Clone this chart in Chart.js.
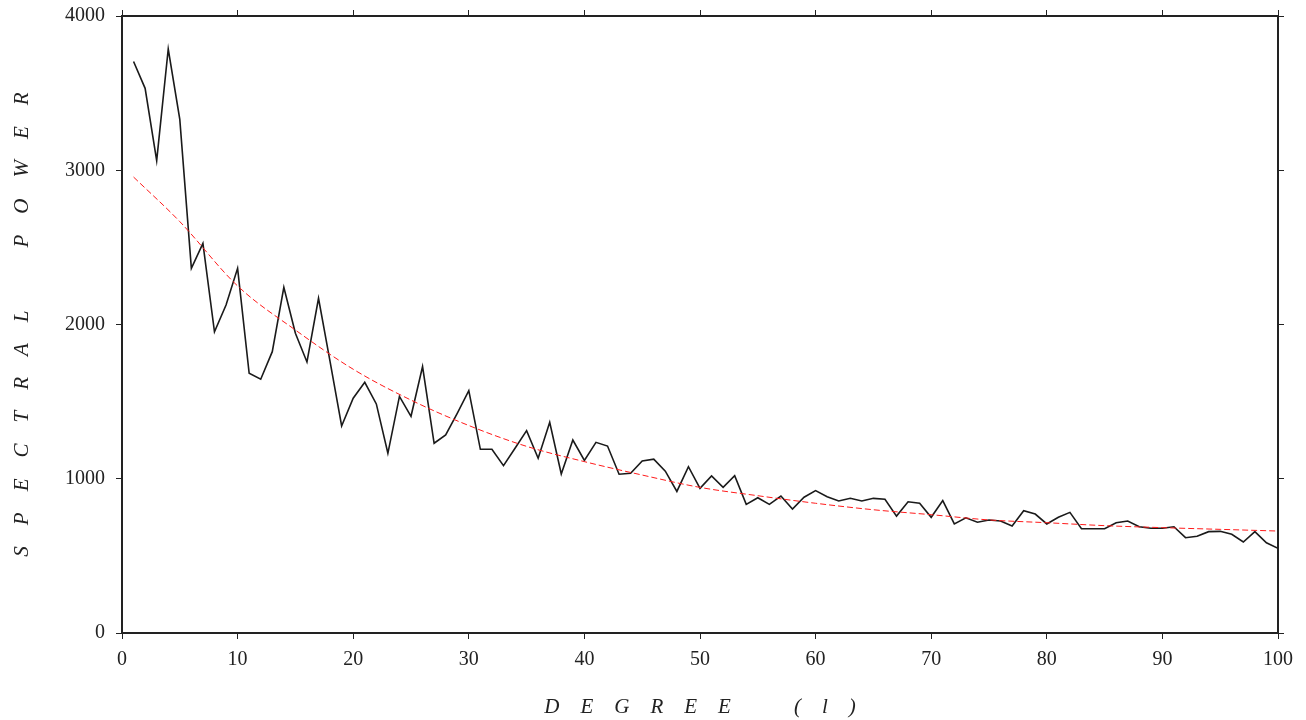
<!DOCTYPE html>
<html>
<head>
<meta charset="utf-8">
<script src="https://cdn.jsdelivr.net/npm/chart.js@4.4.1/dist/chart.umd.min.js"></script>
<style>
  html, body { margin: 0; padding: 0; background: #fff; }
  canvas { display: block; }
</style>
</head>
<body>
<canvas id="myChart" width="1306" height="720"></canvas>
<script>
// degree l
const degrees = [
  1, 2, 3, 4, 5, 6, 7, 8, 9, 10,
  11, 12, 13, 14, 15, 16, 17, 18, 19, 20,
  21, 22, 23, 24, 25, 26, 27, 28, 29, 30,
  31, 32, 33, 34, 35, 36, 37, 38, 39, 40,
  41, 42, 43, 44, 45, 46, 47, 48, 49, 50,
  51, 52, 53, 54, 55, 56, 57, 58, 59, 60,
  61, 62, 63, 64, 65, 66, 67, 68, 69, 70,
  71, 72, 73, 74, 75, 76, 77, 78, 79, 80,
  81, 82, 83, 84, 85, 86, 87, 88, 89, 90,
  91, 92, 93, 94, 95, 96, 97, 98, 99, 100
];

// spectral power
const power = [
  3705, 3531, 3062, 3786, 3330, 2364, 2526, 1953, 2126, 2364,
  1684, 1645, 1824, 2241, 1943, 1757, 2170, 1760, 1342, 1522,
  1625, 1485, 1165, 1534, 1405, 1727, 1230, 1284, 1424, 1571,
  1191, 1191, 1085, 1198, 1312, 1133, 1366, 1031, 1251, 1119,
  1236, 1212, 1029, 1035, 1115, 1127, 1049, 918, 1078, 938,
  1018, 944, 1020, 834, 877, 834, 888, 804, 880, 923,
  884, 856, 873, 856, 873, 867, 758, 851, 841, 750,
  858, 707, 747, 718, 733, 726, 694, 793, 771, 707,
  750, 782, 676, 676, 676, 715, 726, 689, 679, 679,
  689, 618, 627, 657, 659, 640, 590, 657, 585, 549
];

// red dashed fit curve
const fitDegrees = [1, 5, 10, 15, 20, 25, 30, 35, 40, 45, 50, 55, 60, 65, 70, 75, 80, 85, 90, 95, 100];
const fitPower = [2956, 2667, 2250, 1964, 1710, 1510, 1345, 1210, 1111, 1024, 944, 890, 841, 799, 767, 733, 715, 696, 683, 672, 661];

const xTitle = 'D    E    G    R    E    E            (    l    )';
const yTitle = 'S    P    E    C    T    R    A    L            P    O    W    E    R';

const ink = '#222';
const serif = '"Liberation Serif", "DejaVu Serif", serif';

const powerPoints = degrees.map((d, i) => ({ x: d, y: power[i] }));
const fitPoints = fitDegrees.map((d, i) => ({ x: d, y: fitPower[i] }));

// fixed box sizes so the frame lands where the original has it
function fixSize(prop, size) {
    return scale => {
        scale[prop] = size;
        scale.paddingTop = 0;
        scale.paddingBottom = 0;
        scale.paddingLeft = 0;
        scale.paddingRight = 0;
    };
}

function frameAxis(extra) {
    return Object.assign({
        type: 'linear',
        display: true,
        border: { display: true, color: ink, width: 2 },
        grid: {
            drawOnChartArea: false,
            drawTicks: true,
            tickLength: 6,
            color: ink,
            lineWidth: 1
        }
    }, extra);
}

const ctx = document.getElementById('myChart').getContext('2d');
const myChart = new Chart(ctx, {
    type: 'line',
    data: {
        datasets: [{
            label: 'fit',
            data: fitPoints,
            borderColor: '#ff1a1a',
            borderWidth: 1,
            borderDash: [6, 3],
            pointRadius: 0,
            cubicInterpolationMode: 'monotone',
            fill: false
        }, {
            label: 'power',
            data: powerPoints,
            borderColor: '#1a1a1a',
            borderWidth: 1.6,
            pointRadius: 0,
            tension: 0,
            fill: false
        }]
    },
    options: {
        responsive: false,
        animation: false,
        devicePixelRatio: 1,
        layout: { padding: 0 },
        plugins: {
            legend: { display: false },
            tooltip: { enabled: false }
        },
        scales: {
            x: frameAxis({
                position: 'bottom',
                min: 0,
                max: 100,
                ticks: {
                    stepSize: 10,
                    padding: 9,
                    color: ink,
                    font: { family: serif, size: 20 },
                    maxRotation: 0,
                    callback: v => String(v)
                },
                title: {
                    display: true,
                    text: xTitle,
                    color: ink,
                    font: { family: serif, size: 21, style: 'italic' },
                    padding: { top: 3, bottom: 0 }
                },
                afterFit: fixSize('height', 87)
            }),
            x2: frameAxis({
                position: 'top',
                min: 0,
                max: 100,
                ticks: { stepSize: 10, display: false },
                afterFit: fixSize('height', 16)
            }),
            y: frameAxis({
                position: 'left',
                min: 0,
                max: 4000,
                ticks: {
                    stepSize: 1000,
                    padding: 11,
                    color: ink,
                    font: { family: serif, size: 20 },
                    callback: v => String(v)
                },
                title: {
                    display: true,
                    text: yTitle,
                    color: ink,
                    font: { family: serif, size: 21, style: 'italic' },
                    padding: { top: 10, bottom: 0 }
                },
                afterFit: fixSize('width', 122)
            }),
            y2: frameAxis({
                position: 'right',
                min: 0,
                max: 4000,
                ticks: { stepSize: 1000, display: false },
                afterFit: fixSize('width', 28)
            })
        }
    }
});
</script>
</body>
</html>
